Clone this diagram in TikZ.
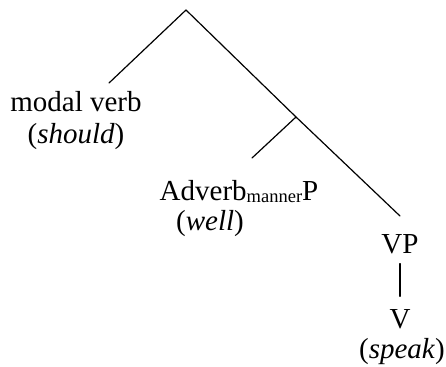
\documentclass[tikz,border=0pt]{standalone}
\usepackage{fontspec}
\setmainfont{Liberation Serif}

\begin{document}
\begin{tikzpicture}[x=1pt,y=-1pt,
    word/.style={inner sep=0pt,anchor=base,font=\fontsize{29}{31}\selectfont},
    branch/.style={line width=1.2pt,line cap=round}]
            \useasboundingbox (0,0) rectangle (446,366);

            % Branch points
            \coordinate (top) at (186,10);
            \coordinate (br) at (296,117);
            \coordinate (modalEnd) at (109,83);
            \coordinate (advEnd) at (252,158);
            \coordinate (vpEnd) at (400,216);

            % Modal
            \node[word] (modal) at (76,112) {modal verb};
            \node[word] (should) at (76,143) {(\textit{should})};

            % Adverb
            \node[word] (adv) at (239,200) {Adverb\raisebox{-2pt}{\fontsize{18.5}{20}\selectfont manner}P};
            \node[word] (well) at (210,230) {(\textit{well})};

            % VP
            \node[word] (vp) at (400,253) {VP};
            \node[word] (v) at (400,328) {V};
            \node[word] (speak) at (402,358) {(\textit{speak})};

            \draw[branch] (top) -- (modalEnd);
            \draw[branch] (top) -- (br) -- (vpEnd);
            \draw[branch] (br) -- (advEnd);
            \draw[branch,shorten <=10pt,shorten >=12.5pt] (vp.south) -- (v.north);
        \end{tikzpicture}
\end{document}
